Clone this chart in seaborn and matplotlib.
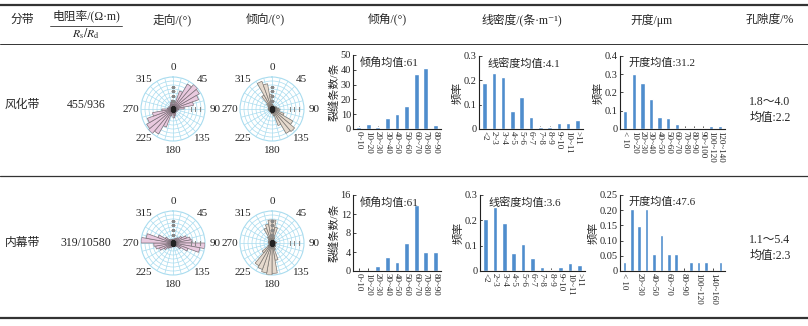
import numpy as np
import matplotlib.pyplot as plt
from matplotlib.lines import Line2D
import seaborn as sns

sns.set_theme(style="ticks")
plt.rcParams["font.family"] = ["Liberation Serif", "Noto Sans CJK SC", "DejaVu Serif"]
plt.rcParams["mathtext.fontset"] = "stix"
plt.rcParams["axes.unicode_minus"] = False

W, H = 808, 326
BLUE = "#4f8dcd"

# ---- table text ----
zones = ["风化带", "内幕带"]
resistivity = ["455/936", "319/10580"]
porosity_range = ["1.8～4.0", "1.1～5.4"]
porosity_mean = ["均值:2.2", "均值:2.3"]

# ---- rose data (10 degree bins, 0..350) ----
rose_bins = np.arange(0, 360, 10)
strike_weathered = [0.15, 0.22, 0.6, 0.9, 1.0, 0.95, 0.85, 0.65, 0.35, 0.18, 0.12, 0.15,
                    0.12, 0.12, 0.15, 0.18, 0.22, 0.28, 0.15, 0.22, 0.6, 0.9, 1.0, 0.95,
                    0.85, 0.65, 0.35, 0.18, 0.12, 0.15, 0.12, 0.12, 0.15, 0.18, 0.22, 0.28]
strike_inner = [0.12, 0.12, 0.15, 0.18, 0.22, 0.32, 0.45, 0.55, 0.6, 1.0, 0.85, 0.5,
                0.28, 0.15, 0.12, 0.12, 0.12, 0.12, 0.12, 0.12, 0.15, 0.18, 0.22, 0.32,
                0.45, 0.55, 0.6, 1.0, 0.85, 0.5, 0.28, 0.15, 0.12, 0.12, 0.12, 0.12]
dipdir_weathered = [0.15, 0.12, 0.1, 0.1, 0.1, 0.12, 0.15, 0.15, 0.2, 0.25, 0.2, 0.4,
                    0.75, 0.92, 0.88, 0.55, 0.22, 0.15, 0.15, 0.12, 0.1, 0.1, 0.1, 0.1,
                    0.1, 0.12, 0.12, 0.12, 0.1, 0.12, 0.15, 0.22, 0.5, 0.92, 0.8, 0.45]
dipdir_inner = [0.72, 0.5, 0.18, 0.1, 0.1, 0.1, 0.1, 0.12, 0.15, 0.12, 0.1, 0.1,
                0.12, 0.15, 0.15, 0.22, 0.55, 0.95, 1.0, 0.95, 0.88, 0.82, 0.4, 0.15,
                0.1, 0.1, 0.1, 0.12, 0.1, 0.12, 0.12, 0.15, 0.22, 0.5, 0.6, 0.72]

# ---- histogram data ----
dip_cats = ["0~10", "10~20", "20~30", "30~40", "40~50", "50~60", "60~70", "70~80", "80~90"]
dip_weathered = [1.5, 3.5, 1.5, 7.5, 10, 15.5, 37, 41, 2.5]
dip_inner = [0, 0, 1, 3, 2, 6, 14, 4, 4]

dens_cats = ["<2", "2~3", "3~4", "4~5", "5~6", "6~7", "7~8", "8~9", "9~10", "10~11", ">11"]
dens_weathered = [0.19, 0.23, 0.215, 0.072, 0.133, 0.049, 0.01, 0.01, 0.025, 0.025, 0.036]
dens_inner = [0.205, 0.252, 0.19, 0.07, 0.107, 0.052, 0.015, 0.005, 0.015, 0.033, 0.025]

ap_cats_w = ["< 10", "10~20", "20~30", "30~40", "40~50", "50~60", "60~70", "70~80",
             "80~90", "90~100", "100~120", "120~140"]
ap_weathered = [0.097, 0.30, 0.25, 0.163, 0.066, 0.058, 0.025, 0.003, 0.008, 0.003, 0.015, 0.015]
ap_cats_i = ["< 10", "10~20", "20~30", "30~40", "40~50", "50~60", "60~70", "70~80",
             "80~90", "90~100", "100~120", "120~140", "140~160", ">160"]
ap_inner = [0.028, 0.205, 0.147, 0.205, 0.057, 0.118, 0.057, 0.057, 0, 0.028, 0.028, 0.028, 0, 0.028]

fig = plt.figure(figsize=(W / 100, H / 100), dpi=100)


def px_rect(x0, y0, x1, y1):
    return [x0 / W, 1 - y1 / H, (x1 - x0) / W, (y1 - y0) / H]


def hline(y, x0=0, x1=W, lw=0.8):
    fig.add_artist(Line2D([x0 / W, x1 / W], [1 - y / H, 1 - y / H],
                          transform=fig.transFigure, color="#333333", lw=lw))


def ftext(x, y, s, size=8.5, **kw):
    fig.text(x / W, 1 - y / H, s, fontsize=size, ha="center", va="center", **kw)


# table rules
hline(5, lw=1.6)
hline(44, lw=0.7)
hline(176, lw=0.9)
hline(318, lw=1.6)
hline(26, 50, 122, lw=0.6)

# header
ftext(22, 20, "分带")
ftext(86, 16, "电阻率/(Ω·m)")
ftext(86, 34, r"$R_\mathrm{s}/R_\mathrm{d}$")
ftext(172, 20, "走向/(°)")
ftext(265, 20, "倾向/(°)")
ftext(387, 20, "倾角/(°)")
ftext(522, 20, "线密度/(条·m⁻¹)")
ftext(651, 20, "开度/μm")
ftext(770, 20, "孔隙度/%")

row_y = [105, 243]
for i in range(2):
    ftext(22, row_y[i], zones[i])
    ftext(86, row_y[i], resistivity[i])
    ftext(770, row_y[i] - 3, porosity_range[i])
    ftext(770, row_y[i] + 13, porosity_mean[i])


def rose(cx, cy, values, face, edge):
    r = 32
    ax = fig.add_axes(px_rect(cx - r, cy - r, cx + r, cy + r), projection="polar")
    ax.set_theta_zero_location("N")
    ax.set_theta_direction(-1)
    ax.bar(np.deg2rad(rose_bins + 5), values, width=np.deg2rad(10),
           color=face, edgecolor=edge, linewidth=0.5, zorder=3)
    ax.set_ylim(0, 1)
    ax.set_yticks(np.arange(0.125, 1.0, 0.125))
    ax.set_yticklabels([])
    ticks = np.arange(0, 360, 15)
    ax.set_xticks(np.deg2rad(ticks))
    ax.set_xticklabels([str(t) if t % 45 == 0 else "" for t in ticks], fontsize=8)
    ax.tick_params(axis="x", pad=0, length=0)
    ax.tick_params(axis="y", length=0)
    ax.grid(True, color="#a9dcef", lw=0.5)
    ax.spines["polar"].set_color("#a9dcef")
    ax.spines["polar"].set_linewidth(0.8)
    ax.set_facecolor("white")
    ax.plot(0, 0, marker="s", color="#222222", ms=2.5, zorder=5)
    ax.plot(np.zeros(4), [0.25, 0.4, 0.55, 0.7], ls="none", marker="_",
            color="#888888", ms=2.5, mew=0.8, zorder=4)
    ax.plot(np.full(3, np.pi / 2), [0.55, 0.7, 0.85], ls="none", marker="|",
            color="#888888", ms=2.5, mew=0.8, zorder=4)


rose(173, 109, strike_weathered, "#e9cadf", "#7d7079")
rose(272, 109, dipdir_weathered, "#e6dace", "#7d7873")
rose(173, 243, strike_inner, "#e9cadf", "#7d7079")
rose(272, 243, dipdir_inner, "#e6dace", "#7d7873")


def hist(rect, cats, vals, yticks, ytl, ylabel, note, labels=None):
    ax = fig.add_axes(px_rect(*rect))
    sns.barplot(x=cats, y=vals, color=BLUE, width=0.5, saturation=1, ax=ax)
    ax.set_xlim(-0.6, len(cats) - 0.4)
    ax.set_ylim(yticks[0], yticks[-1])
    ax.set_yticks(yticks)
    ax.set_yticklabels(ytl, fontsize=7.5)
    ax.set_xticks(range(len(cats)))
    ax.set_xticklabels(labels if labels else cats, rotation=270, fontsize=6.5)
    ax.tick_params(axis="both", direction="in", length=2, width=0.6, pad=1.5)
    ax.set_xlabel("")
    ax.set_ylabel(ylabel, fontsize=8, labelpad=1)
    for s in ["top", "right"]:
        ax.spines[s].set_visible(False)
    for s in ["left", "bottom"]:
        ax.spines[s].set_linewidth(0.8)
        ax.spines[s].set_color("#222222")
    ax.text(0.08, 0.97, note, transform=ax.transAxes, fontsize=8, va="top")
    return ax


hist((353, 55, 441, 129), dip_cats, dip_weathered, [0, 10, 20, 30, 40, 50],
     ["0", "10", "20", "30", "40", "50"], "裂缝条数/条", "倾角均值:61")
hist((479, 56, 583, 129), dens_cats, dens_weathered, [0, 0.1, 0.2, 0.3],
     ["0", "0.1", "0.2", "0.3"], "频率", "线密度均值:4.1")
hist((620, 56, 725, 129), ap_cats_w, ap_weathered, [0, 0.1, 0.2, 0.3, 0.4],
     ["0", "0.1", "0.2", "0.3", "0.4"], "频率", "开度均值:31.2")

hist((353, 195, 441, 271), dip_cats, dip_inner, [0, 4, 8, 12, 16],
     ["0", "4", "8", "12", "16"], "裂缝条数/条", "倾角均值:61")
hist((480, 195, 585, 271), dens_cats, dens_inner, [0, 0.1, 0.2, 0.3],
     ["0", "0.1", "0.2", "0.3"], "频率", "线密度均值:3.6")
hist((620, 195, 725, 271), ap_cats_i, ap_inner, [0, 0.05, 0.10, 0.15, 0.20, 0.25],
     ["0", "0.05", "0.10", "0.15", "0.20", "0.25"], "频率", "开度均值:47.6",
     labels=[c if k % 2 == 0 else "" for k, c in enumerate(ap_cats_i)])

fig.savefig("out.png", dpi=100)
